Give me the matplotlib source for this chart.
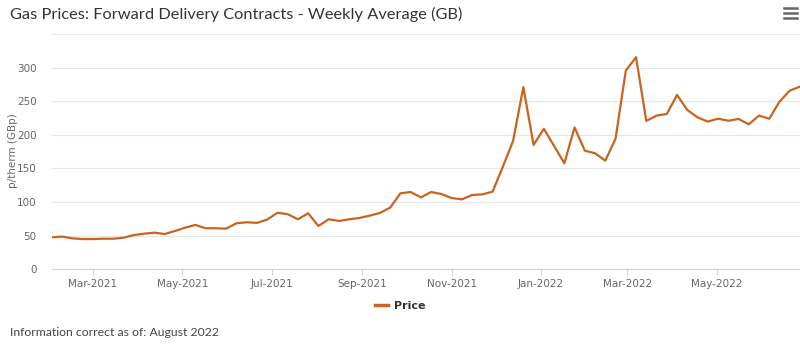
import matplotlib
matplotlib.use('Agg')
import matplotlib.pyplot as plt
import matplotlib.dates as mdates
from matplotlib.lines import Line2D
import pandas as pd

# weekly average price, p/therm, first week starting 2021-02-01
start_date = '2021-02-01'
price = [47.6, 48.6, 46, 45, 45, 45.5, 45.5, 47, 51, 53,
         54.5, 52.5, 57, 62, 66, 61, 61, 60.5, 68.5, 70,
         69, 74, 84, 82, 74.4, 83.3, 64.4, 74.4, 71.9, 74.4,
         76.3, 79.8, 83.8, 91.7, 113, 115, 107, 115, 112, 106,
         104, 110.5, 111.5, 115.5, 152.7, 191, 271, 185, 209, 183.5,
         157.7, 211, 176.5, 172.6, 161.6, 194.4, 295.6, 315.5, 220.7, 228.6,
         231, 259.4, 237, 226, 219.7, 224, 221, 223.6, 215.7, 228.6,
         224, 249.4, 265.8, 271.7]
y_ticks = [0, 50, 100, 150, 200, 250, 300]
x_tick_dates = ['2021-03-01', '2021-05-01', '2021-07-01', '2021-09-01',
                '2021-11-01', '2022-01-01', '2022-03-01', '2022-05-01']

dates = pd.date_range(start_date, periods=len(price), freq='7D')

W, H = 800, 357
fig = plt.figure(figsize=(W / 100, H / 100), dpi=100)
ax = fig.add_axes([52 / W, 1 - 269.3 / H, 748 / W, (269.3 - 34) / H])

ax.plot(dates, price, color='#c8641f', lw=1.6, solid_joinstyle='round')

ax.set_ylim(0, 350)
ax.set_xlim(dates[0], dates[-1])
ax.set_yticks(y_ticks + [350])
ax.set_yticklabels([str(v) for v in y_ticks] + [''])
ax.grid(axis='y', color='#e6e6e6', lw=0.8)
ax.set_axisbelow(True)

ax.set_xticks(pd.to_datetime(x_tick_dates))
ax.xaxis.set_major_formatter(mdates.DateFormatter('%b-%Y'))

for s in ['top', 'right', 'left']:
    ax.spines[s].set_visible(False)
ax.spines['bottom'].set_color('#ccd6eb')
ax.tick_params(axis='y', length=0, pad=11, labelsize=7.5, labelcolor='#666666')
ax.tick_params(axis='x', length=4, color='#ccd6eb', pad=3,
               labelsize=7.5, labelcolor='#666666')

fig.text(13 / W, 1 - 151 / H, 'p/therm (GBp)', rotation=90, fontsize=7.5,
         color='#666666', ha='center', va='center')

fig.text(10 / W, 1 - 14 / H, 'Gas Prices: Forward Delivery Contracts - Weekly Average (GB)',
         fontsize=11.8, color='#333333', va='center', ha='left', family='Lato')

# menu icon
for yy in (8, 13, 18):
    fig.add_artist(Line2D([784 / W, 797 / W], [1 - yy / H, 1 - yy / H],
                          color='#666666', lw=1.8, transform=fig.transFigure))

fig.legend(handles=[Line2D([], [], color='#c8641f', lw=2.5)], labels=['Price'],
           loc='center', bbox_to_anchor=(400 / W, 1 - 306 / H), frameon=False,
           handlelength=1.2, handletextpad=0.5,
           prop={'size': 8, 'weight': 'bold'}, labelcolor='#333333')

fig.text(10 / W, 1 - 333 / H, 'Information correct as of: August 2022',
         fontsize=8.8, color='#444444', va='center', ha='left', family='Lato')

fig.savefig('out.png', dpi=100)
